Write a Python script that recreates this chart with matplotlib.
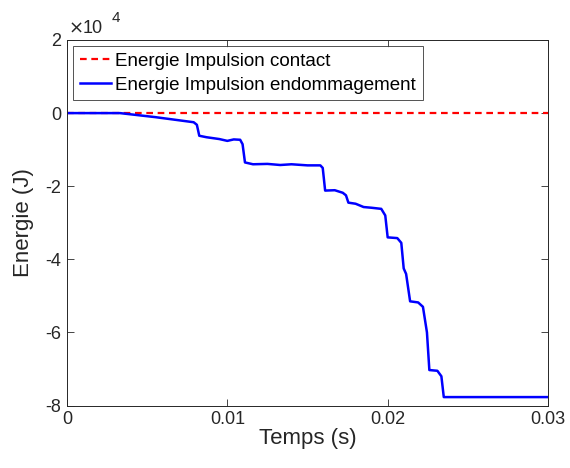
import matplotlib
matplotlib.use("Agg")
import matplotlib.pyplot as plt
from matplotlib.ticker import FuncFormatter
import numpy as np

plt.rcParams['font.family'] = ['Liberation Sans', 'DejaVu Sans']
plt.rcParams['axes.unicode_minus'] = False

# time (s)
t_contact = [0.0, 0.03]
e_contact = [0.0, 0.0]

t_dmg = [0.0, 0.0033, 0.0055, 0.0079, 0.0081, 0.00825, 0.0087, 0.0095, 0.0100, 0.0104,
         0.0108, 0.01095, 0.0111, 0.0116, 0.0125, 0.0133, 0.0140, 0.0150, 0.0158, 0.01595,
         0.0161, 0.0167, 0.0172, 0.0174, 0.01755, 0.0180, 0.0185, 0.0190, 0.0196, 0.01985,
         0.0200, 0.0206, 0.02085, 0.0210, 0.02115, 0.0214, 0.0219, 0.0222, 0.02245, 0.0226,
         0.0231, 0.02335, 0.0235, 0.03]
e_dmg = [0.0, 0.0, -0.11, -0.25, -0.32, -0.62, -0.66, -0.71, -0.76, -0.72,
         -0.73, -0.85, -1.35, -1.40, -1.39, -1.42, -1.40, -1.43, -1.43, -1.50,
         -2.12, -2.11, -2.18, -2.25, -2.45, -2.48, -2.57, -2.59, -2.62, -2.80,
         -3.40, -3.42, -3.55, -4.25, -4.40, -5.15, -5.18, -5.30, -6.00, -7.03,
         -7.05, -7.20, -7.77, -7.77]
e_dmg = [v * 1e4 for v in e_dmg]

x_ticks = [0, 0.01, 0.02, 0.03]
x_ticklabels = ['0', '0.01', '0.02', '0.03']
y_ticks = [2e4, 0, -2e4, -4e4, -6e4, -8e4]
y_scale = 1e4

grey = (0.15, 0.15, 0.15)

fig = plt.figure(figsize=(5.7, 4.68), dpi=100)
ax = fig.add_axes([67/570, 1-405.5/468, (548-67)/570, (405.5-40)/468])

ax.plot(t_contact, e_contact, '--', color='red', lw=1.6, label='Energie Impulsion contact', dashes=(3.0, 2.1))
ax.plot(t_dmg, e_dmg, '-', color='blue', lw=1.8, label='Energie Impulsion endommagement')

ax.set_xlim(0, 0.03)
ax.set_ylim(-8e4, 2e4)
ax.set_xticks(x_ticks)
ax.set_xticklabels(x_ticklabels)
ax.set_yticks(y_ticks)
ax.yaxis.set_major_formatter(FuncFormatter(lambda v, p: '%g' % (v / y_scale)))

# exponent label (x10^4)
ax.text(0.004, 1.019, '\u00d7', transform=ax.transAxes, fontsize=13, color=grey,
        ha='left', va='baseline', family='DejaVu Sans')
ax.text(0.033, 1.019, '10', transform=ax.transAxes, fontsize=13, color=grey,
        ha='left', va='baseline')
ax.text(0.093, 1.049, '4', transform=ax.transAxes, fontsize=11, color=grey,
        ha='left', va='baseline')

ax.tick_params(direction='in', length=5, width=0.6, colors=grey, labelsize=13,
               top=True, right=True, pad=4)
ax.tick_params(axis='x', pad=4)
for s in ax.spines.values():
    s.set_color(grey)
    s.set_linewidth(0.7)

ax.set_xlabel('Temps (s)', fontsize=16, color=grey, labelpad=0)
ax.set_ylabel('Energie (J)', fontsize=16, color=grey, labelpad=8)

leg = ax.legend(loc='upper left', fontsize=13.5, frameon=True, fancybox=False,
                edgecolor=grey, handlelength=1.7, handletextpad=0.2,
                borderaxespad=0.32, borderpad=0.35, labelspacing=0.36)
leg.get_frame().set_linewidth(0.7)
for txt in leg.get_texts():
    txt.set_color('black')

fig.savefig('out.png', dpi=100)
